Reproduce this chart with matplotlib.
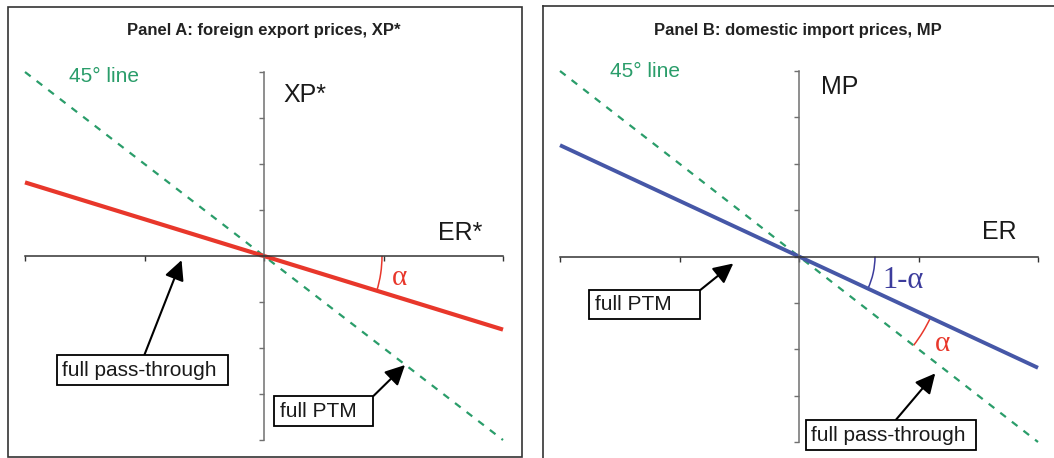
import numpy as np
import matplotlib
matplotlib.use("Agg")
import matplotlib.pyplot as plt
from matplotlib.patches import Arc, Rectangle
from matplotlib.lines import Line2D

plt.rcParams['font.family'] = ['Liberation Sans', 'DejaVu Sans']

# data: end points of the lines (x from -2 to 2)
x_ends = [-2, 2]
line45 = [4, -4]          # 45 degree line (full pass-through / full PTM)
xp_line = [1.6, -1.6]     # panel A, foreign export prices, slope -alpha
mp_line = [2.4, -2.4]     # panel B, domestic import prices, slope -(1-alpha)
x_ticks = [-2, -1, 0, 1, 2]
y_ticks = [-4, -3, -2, -1, 0, 1, 2, 3, 4]

RED = '#e8372b'
BLUE = '#4657a7'
GREEN = '#2a9d6a'
NAVY = '#3c3c9c'
INK = '#1a1a1a'

W, H = 1054, 458
fig = plt.figure(figsize=(W / 100, H / 100), dpi=100)


def fpos(x0, x1, y0, y1):
    # pixel box -> figure fraction
    return [x0 / W, 1 - y1 / H, (x1 - x0) / W, (y1 - y0) / H]


def setup_axes(ax):
    ax.set_xlim(-2, 2)
    ax.set_ylim(-4, 4)
    ax.patch.set_visible(False)
    for s in ['top', 'right']:
        ax.spines[s].set_visible(False)
    ax.spines['left'].set_position(('data', 0))
    ax.spines['bottom'].set_position(('data', 0))
    ax.spines['left'].set_color('#707070')
    ax.spines['bottom'].set_color('#333333')
    ax.spines['left'].set_linewidth(1.1)
    ax.spines['bottom'].set_linewidth(1.1)
    ax.set_xticks(x_ticks)
    ax.set_yticks(y_ticks)
    ax.set_xticklabels([])
    ax.set_yticklabels([])
    ax.tick_params(axis='x', direction='out', length=3.5, width=1.0, color='#333333')
    ax.tick_params(axis='y', direction='out', length=3.5, width=1.0, color='#707070')


def arc(ax, r_px, a1, a2, color):
    # circle of r_px pixels around origin, angles given as data slopes
    bb = ax.get_window_extent()
    sx = bb.width / 4.0
    sy = bb.height / 8.0
    t1 = np.degrees(np.arctan(a1))
    t2 = np.degrees(np.arctan(a2))
    ax.add_patch(Arc((0, 0), 2 * r_px / sx, 2 * r_px / sy, theta1=min(t1, t2),
                     theta2=max(t1, t2), color=color, lw=1.1, clip_on=False))


box = dict(boxstyle='square,pad=0.25', fc='white', ec='black', lw=1.3)
arrow = dict(arrowstyle='-|>,head_length=1.0,head_width=0.5', color='black',
             lw=1.5, mutation_scale=12, shrinkA=0, shrinkB=0)

# ---------------- Panel A ----------------
axA = fig.add_axes(fpos(25, 503, 72, 440))
setup_axes(axA)
axA.plot(x_ends, line45, color=GREEN, lw=1.6, dashes=(3.2, 3.4), clip_on=False)
axA.plot(x_ends, xp_line, color=RED, lw=3.0, clip_on=False, solid_capstyle='butt')
arc(axA, 118, 0, xp_line[1] / x_ends[1], RED)

axA.text(-1.635, 3.78, '45° line', color=GREEN, fontsize=15)
axA.text(0.16, 3.35, 'XP*', color=INK, fontsize=18)
axA.text(1.46, 0.35, 'ER*', color=INK, fontsize=18)
axA.text(1.07, -0.62, 'α', color=RED, fontsize=21, family=['Liberation Serif', 'DejaVu Serif'])

axA.annotate('full pass-through ', xy=(-0.69, -0.09), xytext=(-1.69, -2.48),
             fontsize=15, color=INK, ha='left', va='center', bbox=box,
             arrowprops=dict(arrow, relpos=(0.5, 1.0)))
axA.annotate('full PTM  ', xy=(1.18, -2.37), xytext=(0.13, -3.37),
             fontsize=15, color=INK, ha='left', va='center', bbox=box,
             arrowprops=dict(arrow, relpos=(1.0, 1.0)))

fig.text(264 / W, 1 - 31 / H, 'Panel A: foreign export prices, XP*', ha='center',
         va='center', fontsize=12, fontweight='bold', color='#222222')

# ---------------- Panel B ----------------
axB = fig.add_axes(fpos(560, 1038, 71, 442))
setup_axes(axB)
axB.plot(x_ends, line45, color=GREEN, lw=1.6, dashes=(3.2, 3.4), clip_on=False)
axB.plot(x_ends, mp_line, color=BLUE, lw=2.8, clip_on=False, solid_capstyle='butt')
arc(axB, 76, 0, mp_line[1] / x_ends[1], NAVY)
arc(axB, 145, mp_line[1] / x_ends[1], line45[1] / x_ends[1], RED)

axB.text(-1.58, 3.86, '45° line', color=GREEN, fontsize=15)
axB.text(0.18, 3.51, 'MP', color=INK, fontsize=18)
axB.text(1.53, 0.37, 'ER', color=INK, fontsize=18)
axB.text(0.70, -0.67, '1-α', color=NAVY, fontsize=22, family=['Liberation Serif', 'DejaVu Serif'])
axB.text(1.14, -2.03, 'α', color=RED, fontsize=21, family=['Liberation Serif', 'DejaVu Serif'])

axB.annotate('full PTM    ', xy=(-0.55, -0.15), xytext=(-1.71, -1.03),
             fontsize=15, color=INK, ha='left', va='center', bbox=box,
             arrowprops=dict(arrow, relpos=(1.0, 1.0)))
axB.annotate('full pass-through ', xy=(1.14, -2.52), xytext=(0.1, -3.85),
             fontsize=15, color=INK, ha='left', va='center', bbox=box,
             arrowprops=dict(arrow, relpos=(0.5, 1.0)))

fig.text(798 / W, 1 - 30 / H, 'Panel B: domestic import prices, MP', ha='center',
         va='center', fontsize=12, fontweight='bold', color='#222222')

# panel frames
fig.add_artist(Rectangle((8 / W, 1 - 457 / H), 514 / W, 450 / H, transform=fig.transFigure,
                         fill=False, ec='#333333', lw=1.2))
fig.add_artist(Line2D([543 / W, 543 / W], [0, 1 - 6 / H], transform=fig.transFigure,
                      color='#333333', lw=1.2))
fig.add_artist(Line2D([543 / W, 1], [1 - 6 / H, 1 - 6 / H], transform=fig.transFigure,
                      color='#333333', lw=1.2))

fig.savefig('out.png', dpi=100)
